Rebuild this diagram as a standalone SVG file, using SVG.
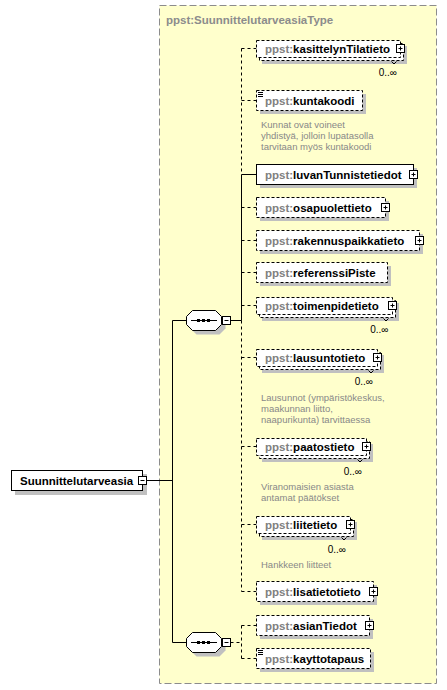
<svg xmlns="http://www.w3.org/2000/svg" width="447" height="690" viewBox="0 0 447 690">
<defs>
<style>
.type{fill:#ffffcc;stroke:#8c8c8c;stroke-width:1;stroke-dasharray:7,3}
.ttl{font-family:"Liberation Sans",Arial,sans-serif;font-size:11.5px;font-weight:bold;fill:#8c8c8c}
.sh{fill:#c0c0c0;stroke:none}
.box{fill:#ffffff;stroke:#000;stroke-width:1}
.opt{fill:#ffffff;stroke:#000;stroke-width:1;stroke-dasharray:3,2}
.lbl{font-family:"Liberation Sans",Arial,sans-serif;font-size:11.5px;font-weight:bold;fill:#000}
.pfx{fill:#808080}
.doc{font-family:"Liberation Sans",Arial,sans-serif;font-size:9.5px;fill:#888888}
.card{font-family:"Liberation Sans",Arial,sans-serif;font-size:10px;fill:#000;text-anchor:end}
.ln{fill:none;stroke:#000;stroke-width:1}
.dl{fill:none;stroke:#000;stroke-width:1;stroke-dasharray:3,3}
.ic{fill:none;stroke:#000;stroke-width:1}
</style>
</defs>
<rect class="type" x="159.5" y="5.5" width="277" height="678"/>
<text class="ttl" x="166" y="23.5">ppst:SuunnittelutarveasiaType</text>
<g id="connectors">
<path class="ln" d="M146.5 480.5H172.5M172.5 320.5V642.5M172.5 320.5H186.5M172.5 642.5H186.5M230.5 320.5H241.5M241.5 174.5V320.5M241.5 174.5H256.5"/>
<path class="dl" d="M241.5 48.5V174.5M241.5 320.5V591.5M230.5 642.5H241.5M241.5 625.5V658.5"/>
<path class="dl" d="M241.5 48.5H256.5M241.5 100.5H256.5M241.5 207.5H256.5M241.5 240.5H256.5M241.5 272.5H256.5M241.5 305.5H256.5M241.5 357.5H256.5M241.5 446.5H256.5M241.5 524.5H256.5M241.5 591.5H256.5M241.5 625.5H256.5M241.5 658.5H256.5"/>
</g>
<g id="root">
<rect class="sh" x="15" y="474" width="132" height="21"/>
<rect class="box" x="11.5" y="470.5" width="131" height="20"/>
<text class="lbl" x="20" y="484.5">Suunnittelutarveasia</text>
<rect class="box" x="138.5" y="476.5" width="8" height="8"/>
<path class="ic" d="M140.5 480.5H144.5"/>
</g>
<g id="seq1">
<path class="sh" d="M196.5 314.5H219.5L225.5 320.5V328.5L219.5 334.5H196.5L190.5 328.5V320.5Z"/>
<path class="box" d="M192.5 310.5H215.5L221.5 316.5V324.5L215.5 330.5H192.5L186.5 324.5V316.5Z"/>
<path class="ic" d="M191 320.5H217"/>
<rect x="197" y="319" width="3" height="3" fill="#000"/>
<rect x="202" y="319" width="3" height="3" fill="#000"/>
<rect x="207" y="319" width="3" height="3" fill="#000"/>
<rect class="box" x="222.5" y="316.5" width="8" height="8"/>
<path class="ic" d="M224.5 320.5H228.5"/>
</g>
<g id="seq2">
<path class="sh" d="M196.5 636.5H219.5L225.5 642.5V650.5L219.5 656.5H196.5L190.5 650.5V642.5Z"/>
<path class="box" d="M192.5 632.5H215.5L221.5 638.5V646.5L215.5 652.5H192.5L186.5 646.5V638.5Z"/>
<path class="ic" d="M191 642.5H217"/>
<rect x="197" y="641" width="3" height="3" fill="#000"/>
<rect x="202" y="641" width="3" height="3" fill="#000"/>
<rect x="207" y="641" width="3" height="3" fill="#000"/>
<rect class="box" x="222.5" y="638.5" width="8" height="8"/>
<path class="ic" d="M224.5 642.5H228.5"/>
</g>
<g id="kasittelynTilatieto">
<rect class="sh" x="262" y="46" width="145" height="18"/>
<rect class="opt" x="259.5" y="43.5" width="144" height="17"/>
<rect class="opt" x="256.5" y="40.5" width="144" height="17"/>
<path class="ic" d="M391.5 61.5L394 64L396.5 61.5"/>
<text class="lbl" x="265" y="53"><tspan class="pfx">ppst:</tspan>kasittelynTilatieto</text>
<rect class="box" x="396.5" y="44.5" width="8" height="8"/>
<path class="ic" d="M398.5 48.5H402.5M400.5 46.5V50.5"/>
<text class="card" x="397" y="75.5">0..∞</text>
</g>
<g id="kuntakoodi">
<rect class="sh" x="260" y="94" width="106" height="20"/>
<rect class="opt" x="256.5" y="90.5" width="106" height="20"/>
<path class="ic" d="M258 92.5H263M258 94.5H263M258 96.5H263"/>
<text class="lbl" x="265" y="105"><tspan class="pfx">ppst:</tspan>kuntakoodi</text>
<text class="doc" x="261" y="127.5">Kunnat ovat voineet</text>
<text class="doc" x="261" y="138.5">yhdistyä, jolloin lupatasolla</text>
<text class="doc" x="261" y="149.5">tarvitaan myös kuntakoodi</text>
</g>
<g id="luvanTunnistetiedot">
<rect class="sh" x="260" y="168" width="157" height="20"/>
<rect class="box" x="256.5" y="164.5" width="157" height="20"/>
<text class="lbl" x="265" y="179"><tspan class="pfx">ppst:</tspan>luvanTunnistetiedot</text>
<rect class="box" x="409.5" y="170.5" width="8" height="8"/>
<path class="ic" d="M411.5 174.5H415.5M413.5 172.5V176.5"/>
</g>
<g id="osapuolettieto">
<rect class="sh" x="260" y="201" width="129" height="20"/>
<rect class="opt" x="256.5" y="197.5" width="129" height="20"/>
<text class="lbl" x="265" y="212"><tspan class="pfx">ppst:</tspan>osapuolettieto</text>
<rect class="box" x="381.5" y="203.5" width="8" height="8"/>
<path class="ic" d="M383.5 207.5H387.5M385.5 205.5V209.5"/>
</g>
<g id="rakennuspaikkatieto">
<rect class="sh" x="260" y="234" width="163" height="20"/>
<rect class="opt" x="256.5" y="230.5" width="163" height="20"/>
<text class="lbl" x="265" y="245"><tspan class="pfx">ppst:</tspan>rakennuspaikkatieto</text>
<rect class="box" x="415.5" y="236.5" width="8" height="8"/>
<path class="ic" d="M417.5 240.5H421.5M419.5 238.5V242.5"/>
</g>
<g id="referenssiPiste">
<rect class="sh" x="260" y="266" width="131" height="20"/>
<rect class="opt" x="256.5" y="262.5" width="131" height="20"/>
<text class="lbl" x="265" y="277"><tspan class="pfx">ppst:</tspan>referenssiPiste</text>
</g>
<g id="toimenpidetieto">
<rect class="sh" x="262" y="303" width="137" height="18"/>
<rect class="opt" x="259.5" y="300.5" width="136" height="17"/>
<rect class="opt" x="256.5" y="297.5" width="136" height="17"/>
<path class="ic" d="M383.5 318.5L386 321L388.5 318.5"/>
<text class="lbl" x="265" y="310"><tspan class="pfx">ppst:</tspan>toimenpidetieto</text>
<rect class="box" x="388.5" y="301.5" width="8" height="8"/>
<path class="ic" d="M390.5 305.5H394.5M392.5 303.5V307.5"/>
<text class="card" x="388.5" y="332.5">0..∞</text>
</g>
<g id="lausuntotieto">
<rect class="sh" x="262" y="355" width="122" height="18"/>
<rect class="opt" x="259.5" y="352.5" width="121" height="17"/>
<rect class="opt" x="256.5" y="349.5" width="121" height="17"/>
<path class="ic" d="M368.5 370.5L371 373L373.5 370.5"/>
<text class="lbl" x="265" y="362"><tspan class="pfx">ppst:</tspan>lausuntotieto</text>
<rect class="box" x="373.5" y="353.5" width="8" height="8"/>
<path class="ic" d="M375.5 357.5H379.5M377.5 355.5V359.5"/>
<text class="card" x="373" y="385">0..∞</text>
<text class="doc" x="261" y="401">Lausunnot (ympäristökeskus,</text>
<text class="doc" x="261" y="412">maakunnan liitto,</text>
<text class="doc" x="261" y="423">naapurikunta) tarvittaessa</text>
</g>
<g id="paatostieto">
<rect class="sh" x="262" y="444" width="111" height="18"/>
<rect class="opt" x="259.5" y="441.5" width="110" height="17"/>
<rect class="opt" x="256.5" y="438.5" width="110" height="17"/>
<path class="ic" d="M357.5 459.5L360 462L362.5 459.5"/>
<text class="lbl" x="265" y="451"><tspan class="pfx">ppst:</tspan>paatostieto</text>
<rect class="box" x="362.5" y="442.5" width="8" height="8"/>
<path class="ic" d="M364.5 446.5H368.5M366.5 444.5V448.5"/>
<text class="card" x="362" y="475">0..∞</text>
<text class="doc" x="261" y="490">Viranomaisien asiasta</text>
<text class="doc" x="261" y="501">antamat päätökset</text>
</g>
<g id="liitetieto">
<rect class="sh" x="262" y="522" width="95" height="18"/>
<rect class="opt" x="259.5" y="519.5" width="94" height="17"/>
<rect class="opt" x="256.5" y="516.5" width="94" height="17"/>
<path class="ic" d="M341.5 537.5L344 540L346.5 537.5"/>
<text class="lbl" x="265" y="529"><tspan class="pfx">ppst:</tspan>liitetieto</text>
<rect class="box" x="346.5" y="520.5" width="8" height="8"/>
<path class="ic" d="M348.5 524.5H352.5M350.5 522.5V526.5"/>
<text class="card" x="346" y="552.5">0..∞</text>
<text class="doc" x="261" y="567.5">Hankkeen liitteet</text>
</g>
<g id="lisatietotieto">
<rect class="sh" x="260" y="585" width="117" height="20"/>
<rect class="opt" x="256.5" y="581.5" width="117" height="20"/>
<text class="lbl" x="265" y="596"><tspan class="pfx">ppst:</tspan>lisatietotieto</text>
<rect class="box" x="369.5" y="587.5" width="8" height="8"/>
<path class="ic" d="M371.5 591.5H375.5M373.5 589.5V593.5"/>
</g>
<g id="asianTiedot">
<rect class="sh" x="260" y="619" width="113" height="20"/>
<rect class="opt" x="256.5" y="615.5" width="113" height="20"/>
<text class="lbl" x="265" y="630"><tspan class="pfx">ppst:</tspan>asianTiedot</text>
<rect class="box" x="365.5" y="621.5" width="8" height="8"/>
<path class="ic" d="M367.5 625.5H371.5M369.5 623.5V627.5"/>
</g>
<g id="kayttotapaus">
<rect class="sh" x="260" y="652" width="114" height="20"/>
<rect class="opt" x="256.5" y="648.5" width="114" height="20"/>
<path class="ic" d="M258 650.5H263M258 652.5H263M258 654.5H263"/>
<text class="lbl" x="265" y="663"><tspan class="pfx">ppst:</tspan>kayttotapaus</text>
</g>
</svg>
